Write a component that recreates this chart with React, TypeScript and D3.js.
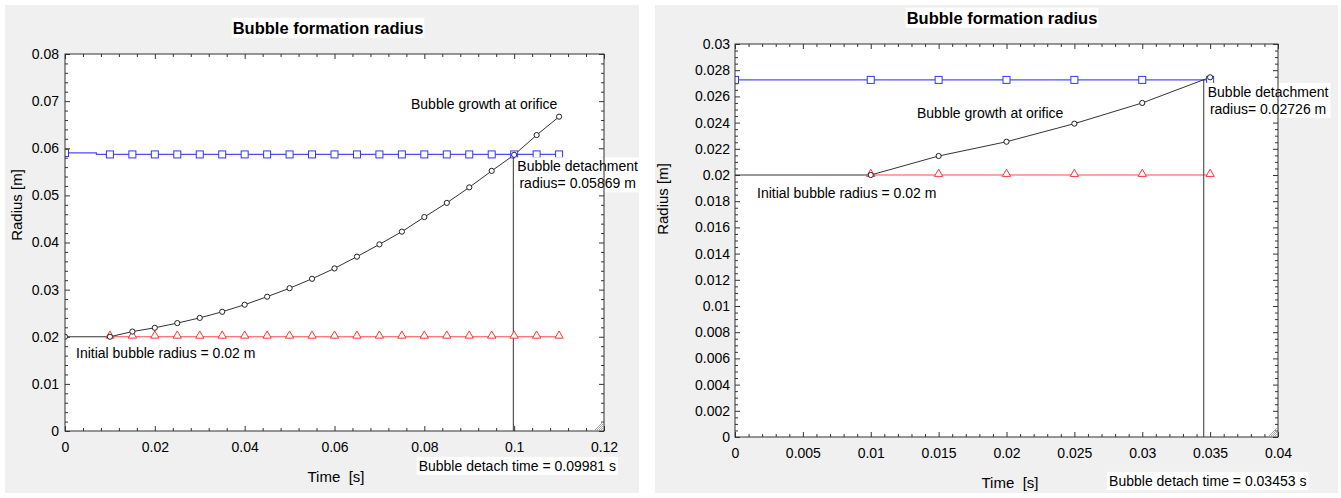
import React, { useEffect, useRef } from "react";
import * as d3 from "d3";

// ---- left chart data ----
const leftTime = [0, 0.01, 0.015, 0.02, 0.025, 0.03, 0.035, 0.04, 0.045, 0.05, 0.055, 0.06, 0.065, 0.07, 0.075, 0.08, 0.085, 0.09, 0.095, 0.1, 0.105, 0.11];
const leftGrowth = [0.02, 0.02, 0.0211, 0.0219, 0.0229, 0.024, 0.0253, 0.0268, 0.0285, 0.0303, 0.0323, 0.0345, 0.037, 0.0396, 0.0423, 0.0454, 0.0484, 0.0517, 0.0552, 0.0586, 0.0628, 0.0667];
const leftDetachTime = [0, 0.007, 0.007, 0.01, 0.015, 0.02, 0.025, 0.03, 0.035, 0.04, 0.045, 0.05, 0.055, 0.06, 0.065, 0.07, 0.075, 0.08, 0.085, 0.09, 0.095, 0.1, 0.105, 0.11];
const leftDetachRadius = [0.059, 0.059, 0.05869, 0.05869, 0.05869, 0.05869, 0.05869, 0.05869, 0.05869, 0.05869, 0.05869, 0.05869, 0.05869, 0.05869, 0.05869, 0.05869, 0.05869, 0.05869, 0.05869, 0.05869, 0.05869, 0.05869, 0.05869, 0.05869];
const leftDetachMarked = [true, false, false, true, true, true, true, true, true, true, true, true, true, true, true, true, true, true, true, true, true, true, true, true];
const leftInitTime = [0.01, 0.015, 0.02, 0.025, 0.03, 0.035, 0.04, 0.045, 0.05, 0.055, 0.06, 0.065, 0.07, 0.075, 0.08, 0.085, 0.09, 0.095, 0.1, 0.105, 0.11];
const leftInitRadius = [0.02, 0.02, 0.02, 0.02, 0.02, 0.02, 0.02, 0.02, 0.02, 0.02, 0.02, 0.02, 0.02, 0.02, 0.02, 0.02, 0.02, 0.02, 0.02, 0.02, 0.02];
const leftDetach = { time: 0.09981, radius: 0.05869 };
const leftXTicks = [0, 0.02, 0.04, 0.06, 0.08, 0.1, 0.12];
const leftXLabels = ["0", "0.02", "0.04", "0.06", "0.08", "0.1", "0.12"];
const leftYTicks = [0, 0.01, 0.02, 0.03, 0.04, 0.05, 0.06, 0.07, 0.08];
const leftYLabels = ["0", "0.01", "0.02", "0.03", "0.04", "0.05", "0.06", "0.07", "0.08"];

// ---- right chart data ----
const rightTime = [0, 0.01, 0.015, 0.02, 0.025, 0.03, 0.035];
const rightGrowth = [0.02, 0.02, 0.02145, 0.02254, 0.02392, 0.0255, 0.02746];
const rightDetachTime = [0, 0.01, 0.015, 0.02, 0.025, 0.03, 0.035];
const rightDetachRadius = [0.02726, 0.02726, 0.02726, 0.02726, 0.02726, 0.02726, 0.02726];
const rightDetachMarked = [true, true, true, true, true, true, true];
const rightInitTime = [0.01, 0.015, 0.02, 0.025, 0.03, 0.035];
const rightInitRadius = [0.02, 0.02, 0.02, 0.02, 0.02, 0.02];
const rightDetach = { time: 0.03453, radius: 0.02726 };
const rightXTicks = [0, 0.005, 0.01, 0.015, 0.02, 0.025, 0.03, 0.035, 0.04];
const rightXLabels = ["0", "0.005", "0.01", "0.015", "0.02", "0.025", "0.03", "0.035", "0.04"];
const rightYTicks = [0, 0.002, 0.004, 0.006, 0.008, 0.01, 0.012, 0.014, 0.016, 0.018, 0.02, 0.022, 0.024, 0.026, 0.028, 0.03];
const rightYLabels = ["0", "0.002", "0.004", "0.006", "0.008", "0.01", "0.012", "0.014", "0.016", "0.018", "0.02", "0.022", "0.024", "0.026", "0.028", "0.03"];

const FONT = "Arial, 'Liberation Sans', sans-serif";
const NOTE_SIZE = 14;

const panels = [
  {
    id: "l",
    bg: [5, 5, 634, 488],
    plot: { x0: 65, x1: 604, y0: 54, y1: 431 },
    xTicks: leftXTicks, xLabels: leftXLabels, xSub: 5,
    yTicks: leftYTicks, yLabels: leftYLabels, ySub: 5,
    time: leftTime, growth: leftGrowth,
    detachTime: leftDetachTime, detachRadius: leftDetachRadius, detachMarked: leftDetachMarked,
    initTime: leftInitTime, initRadius: leftInitRadius,
    detach: leftDetach, growthMarkFrom: 0,
    title: [328, 28], yTitle: [17, 205], xTitle: [336, 477],
    growthLabel: [411, 104], initLabel: [76, 353], timeLabelY: 466,
    yPad: 6,
  },
  {
    id: "r",
    bg: [655, 5, 683, 488],
    plot: { x0: 735, x1: 1278, y0: 44, y1: 437 },
    xTicks: rightXTicks, xLabels: rightXLabels, xSub: 5,
    yTicks: rightYTicks, yLabels: rightYLabels, ySub: 4,
    time: rightTime, growth: rightGrowth,
    detachTime: rightDetachTime, detachRadius: rightDetachRadius, detachMarked: rightDetachMarked,
    initTime: rightInitTime, initRadius: rightInitRadius,
    detach: rightDetach, growthMarkFrom: 1,
    title: [1002, 18], yTitle: [663, 199], xTitle: [1010, 483],
    growthLabel: [917, 113], initLabel: [757, 193], timeLabelY: 481,
    yPad: 5,
  },
];

function minors(ticks: number[], sub: number) {
  const out: number[] = [];
  for (let i = 0; i < ticks.length - 1; i++) {
    const step = (ticks[i + 1] - ticks[i]) / sub;
    for (let k = 1; k < sub; k++) out.push(ticks[i] + step * k);
  }
  return out;
}

function boxedText(g: any, x: number, y: number, lines: string[], size: number, weight: string, pad: number) {
  const grp = g.append("g");
  const t = grp.append("text")
    .attr("font-family", FONT)
    .attr("font-size", size)
    .attr("font-weight", weight)
    .attr("text-anchor", "middle")
    .attr("fill", "#000");
  lines.forEach((s, i) => {
    t.append("tspan").attr("x", x).attr("y", y + i * (size + 3)).attr("dy", "0.35em").text(s);
  });
  const bb = (t.node() as SVGTextElement).getBBox();
  grp.insert("rect", "text")
    .attr("x", bb.x - pad).attr("y", bb.y - 1)
    .attr("width", bb.width + pad * 2).attr("height", bb.height + 2)
    .attr("fill", "#fff");
}

function drawPanel(svg: any, p: any) {
  const { x0, x1, y0, y1 } = p.plot;
  const x = d3.scaleLinear().domain([p.xTicks[0], p.xTicks[p.xTicks.length - 1]]).range([x0, x1]);
  const y = d3.scaleLinear().domain([p.yTicks[0], p.yTicks[p.yTicks.length - 1]]).range([y1, y0]);

  svg.append("rect")
    .attr("x", p.bg[0]).attr("y", p.bg[1]).attr("width", p.bg[2]).attr("height", p.bg[3])
    .attr("fill", "#f0f0f0");
  svg.append("rect")
    .attr("x", x0).attr("y", y0).attr("width", x1 - x0).attr("height", y1 - y0)
    .attr("fill", "#fff");

  // axes: major + minor, ticks pointing inwards
  const xMin = minors(p.xTicks, p.xSub);
  const yMin = minors(p.yTicks, p.ySub);
  const fmtX = (d: number) => p.xLabels[p.xTicks.indexOf(d)];
  const fmtY = (d: number) => p.yLabels[p.yTicks.indexOf(d)];

  const addAxis = (axis: any, tx: number, ty: number) => {
    const g = svg.append("g").attr("transform", `translate(${tx},${ty})`).call(axis);
    g.select(".domain").remove();
    g.selectAll("line").attr("stroke", "#333");
    g.selectAll("text").attr("font-family", FONT).attr("font-size", 14).attr("fill", "#000");
    return g;
  };
  addAxis(d3.axisBottom(x).tickValues(p.xTicks).tickFormat(fmtX).tickSizeInner(-5).tickSizeOuter(0).tickPadding(11), 0, y1);
  addAxis(d3.axisBottom(x).tickValues(xMin).tickFormat(() => "").tickSizeInner(-3).tickSizeOuter(0), 0, y1);
  addAxis(d3.axisTop(x).tickValues(p.xTicks).tickFormat(() => "").tickSizeInner(-5).tickSizeOuter(0), 0, y0);
  addAxis(d3.axisTop(x).tickValues(xMin).tickFormat(() => "").tickSizeInner(-3).tickSizeOuter(0), 0, y0);
  addAxis(d3.axisLeft(y).tickValues(p.yTicks).tickFormat(fmtY).tickSizeInner(-5).tickSizeOuter(0).tickPadding(p.yPad), x0, 0);
  addAxis(d3.axisLeft(y).tickValues(yMin).tickFormat(() => "").tickSizeInner(-3).tickSizeOuter(0), x0, 0);
  addAxis(d3.axisRight(y).tickValues(p.yTicks).tickFormat(() => "").tickSizeInner(-5).tickSizeOuter(0), x1, 0);
  addAxis(d3.axisRight(y).tickValues(yMin).tickFormat(() => "").tickSizeInner(-3).tickSizeOuter(0), x1, 0);

  // resize grip
  [3, 5, 7, 9].forEach((k) => {
    svg.append("line")
      .attr("x1", x1 - k).attr("y1", y1 - 1).attr("x2", x1 - 1).attr("y2", y1 - k)
      .attr("stroke", "#aaa").attr("stroke-width", 1);
  });

  // plot content
  const clipId = `clip-${p.id}`;
  svg.append("clipPath").attr("id", clipId)
    .append("rect").attr("x", x0).attr("y", y0).attr("width", x1 - x0).attr("height", y1 - y0);
  const g = svg.append("g").attr("clip-path", `url(#${clipId})`);

  const line = d3.line<[number, number]>().x((d) => x(d[0])).y((d) => y(d[1]));
  const blue: [number, number][] = p.detachTime.map((t: number, i: number) => [t, p.detachRadius[i]]);
  const blueMarks = blue.filter((_, i) => p.detachMarked[i]);
  const red: [number, number][] = p.initTime.map((t: number, i: number) => [t, p.initRadius[i]]);
  const black: [number, number][] = p.time.map((t: number, i: number) => [t, p.growth[i]]);

  g.append("path").attr("d", line(blue)).attr("fill", "none").attr("stroke", "#4d4dff").attr("stroke-width", 1.2);
  g.append("path").attr("d", line(red)).attr("fill", "none").attr("stroke", "#ff4d4d").attr("stroke-width", 1.2);
  g.append("path").attr("d", line(black)).attr("fill", "none").attr("stroke", "#333").attr("stroke-width", 1);

  // detach time marker
  g.append("line")
    .attr("x1", x(p.detach.time)).attr("x2", x(p.detach.time))
    .attr("y1", y(p.detach.radius)).attr("y2", y1)
    .attr("stroke", "#333").attr("stroke-width", 1);

  g.selectAll(null).data(red).enter().append("path")
    .attr("d", d3.symbol(d3.symbolTriangle, 30)())
    .attr("transform", (d: [number, number]) => `translate(${x(d[0])},${y(d[1]) - 1})`)
    .attr("fill", "#fff").attr("stroke", "#ff3333").attr("stroke-width", 1);
  g.selectAll(null).data(blueMarks).enter().append("rect")
    .attr("x", (d: [number, number]) => x(d[0]) - 3.5).attr("y", (d: [number, number]) => y(d[1]) - 3.5)
    .attr("width", 7).attr("height", 7)
    .attr("fill", "#fff").attr("stroke", "#3333ff").attr("stroke-width", 1);
  g.selectAll(null).data(black.slice(p.growthMarkFrom)).enter().append("circle")
    .attr("cx", (d: [number, number]) => x(d[0])).attr("cy", (d: [number, number]) => y(d[1]))
    .attr("r", 2.6)
    .attr("fill", "#fff").attr("stroke", "#222").attr("stroke-width", 1);

  // annotations
  svg.append("text").attr("x", p.growthLabel[0]).attr("y", p.growthLabel[1]).attr("dy", "0.35em")
    .attr("font-family", FONT).attr("font-size", NOTE_SIZE).text("Bubble growth at orifice");
  svg.append("text").attr("x", p.initLabel[0]).attr("y", p.initLabel[1]).attr("dy", "0.35em")
    .attr("font-family", FONT).attr("font-size", NOTE_SIZE).text("Initial bubble radius = 0.02 m");

  const dx = x(p.detach.time);
  const dy = y(p.detach.radius);
  const radiusLines = ["Bubble detachment", `radius= ${p.detach.radius} m`];
  // box placed just right of / below the detachment point
  const tmp = svg.append("text").attr("font-family", FONT).attr("font-size", NOTE_SIZE).text(radiusLines[0]);
  const w = (tmp.node() as SVGTextElement).getComputedTextLength();
  tmp.remove();
  boxedText(svg, dx + 4 + w / 2, dy + 12, radiusLines, NOTE_SIZE, "normal", 2);
  boxedText(svg, dx + 4, p.timeLabelY, [`Bubble detach time = ${p.detach.time} s`], NOTE_SIZE, "normal", 2);

  // titles
  boxedText(svg, p.title[0], p.title[1], ["Bubble formation radius"], 16.5, "bold", 1);
  svg.append("text").attr("x", p.xTitle[0]).attr("y", p.xTitle[1]).attr("dy", "0.35em")
    .attr("text-anchor", "middle").attr("font-family", FONT).attr("font-size", 15).text("Time  [s]")
    .attr("xml:space", "preserve").style("white-space", "pre");
  svg.append("text")
    .attr("transform", `translate(${p.yTitle[0]},${p.yTitle[1]}) rotate(-90)`)
    .attr("dy", "0.35em").attr("text-anchor", "middle")
    .attr("font-family", FONT).attr("font-size", 15).text("Radius [m]");

  // frame
  svg.append("rect")
    .attr("x", x0).attr("y", y0).attr("width", x1 - x0).attr("height", y1 - y0)
    .attr("fill", "none").attr("stroke", "#333").attr("stroke-width", 1);
}

export default function App() {
  const ref = useRef<SVGSVGElement>(null);

  useEffect(() => {
    const svg = d3.select(ref.current);
    svg.selectAll("*").remove();
    panels.forEach((p) => drawPanel(svg, p));
  }, []);

  return (
    <svg
      ref={ref}
      width={1341}
      height={498}
      style={{ position: "absolute", left: 0, top: 0, background: "#fff" }}
    />
  );
}
